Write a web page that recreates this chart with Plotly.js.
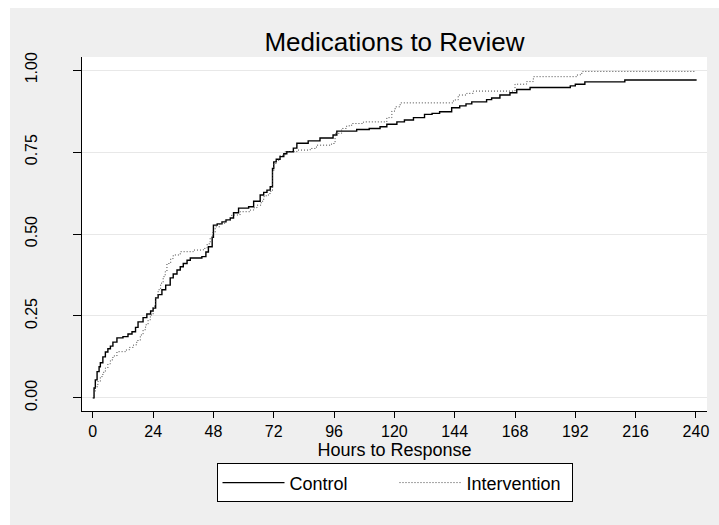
<!DOCTYPE html>
<html>
<head>
<meta charset="utf-8">
<script src="https://cdn.plot.ly/plotly-3.0.1.min.js"></script>
<style>
  html, body { margin: 0; padding: 0; background: #ffffff; }
  #chart { position: absolute; left: 10px; top: 8px; width: 709px; height: 517px; }
</style>
</head>
<body>
<div id="chart"></div>
<script>
// Hours to response (event times) and cumulative proportion responded
const ctrlHours = [0, 0.5, 1, 1.7, 2.5, 3, 4, 5, 6, 7, 8, 9.6, 12, 14, 15.6, 17, 18, 20, 21.5, 23, 24, 25, 26, 27.5, 29, 30.8, 32, 33.5, 34.8, 36, 37.5, 38.8, 43.4, 45, 46, 47.5, 48, 49.5, 51.4, 53, 54.7, 56, 58, 62, 64, 66.6, 68, 69.3, 70.6, 71.5, 72, 73, 74.5, 76, 77.2, 79.8, 81.2, 85.7, 90.4, 95.6, 97.1, 105, 110, 114.3, 117, 121, 124, 127.6, 132, 135, 138, 142.8, 146, 148.5, 150.8, 156.7, 158.7, 162, 166, 168.7, 174, 190, 192, 195.8, 211.7, 240];
const ctrlValues = [0, 0.03, 0.055, 0.08, 0.095, 0.107, 0.125, 0.14, 0.15, 0.158, 0.17, 0.183, 0.187, 0.195, 0.202, 0.215, 0.232, 0.245, 0.256, 0.265, 0.274, 0.305, 0.315, 0.33, 0.344, 0.366, 0.378, 0.39, 0.40, 0.41, 0.42, 0.427, 0.431, 0.445, 0.461, 0.49, 0.527, 0.531, 0.537, 0.543, 0.549, 0.565, 0.579, 0.583, 0.60, 0.619, 0.627, 0.634, 0.644, 0.70, 0.72, 0.728, 0.736, 0.745, 0.751, 0.762, 0.777, 0.784, 0.793, 0.802, 0.814, 0.819, 0.822, 0.827, 0.835, 0.842, 0.848, 0.855, 0.865, 0.868, 0.873, 0.885, 0.891, 0.897, 0.903, 0.91, 0.915, 0.924, 0.931, 0.941, 0.947, 0.952, 0.957, 0.964, 0.97, 0.972];

const intvHours = [0, 0.5, 1, 2, 3, 4, 5, 6, 7, 8, 9.6, 13, 14.5, 16.2, 17.5, 18.9, 20, 21, 22, 22.9, 24, 25, 26, 27, 28, 28.8, 29.5, 31, 32, 34.8, 40, 44, 45.5, 46.7, 47.7, 48.7, 50.5, 52.7, 55.3, 58.6, 62.6, 64, 65.3, 67, 68, 69, 70.5, 71.5, 72, 73, 74.5, 76.5, 81.2, 86.5, 89, 95, 96.4, 99, 101, 103, 107.7, 117, 119, 120.3, 122.3, 143.5, 145.4, 148.8, 151.4, 168, 172.6, 175.3, 192.5, 194, 195, 240];
const intvValues = [0, 0.015, 0.034, 0.05, 0.065, 0.078, 0.091, 0.104, 0.116, 0.128, 0.141, 0.146, 0.154, 0.162, 0.175, 0.192, 0.208, 0.223, 0.238, 0.253, 0.28, 0.305, 0.33, 0.35, 0.37, 0.385, 0.41, 0.425, 0.436, 0.446, 0.451, 0.456, 0.47, 0.488, 0.505, 0.522, 0.533, 0.543, 0.558, 0.568, 0.573, 0.58, 0.588, 0.60, 0.614, 0.619, 0.63, 0.69, 0.715, 0.725, 0.74, 0.751, 0.756, 0.761, 0.771, 0.776, 0.807, 0.822, 0.83, 0.837, 0.842, 0.855, 0.875, 0.888, 0.90, 0.909, 0.924, 0.929, 0.936, 0.957, 0.965, 0.98, 0.985, 0.99, 0.996, 0.996];

const xTickVals = [0, 24, 48, 72, 96, 120, 144, 168, 192, 216, 240];
const yTickVals = [0, 0.25, 0.5, 0.75, 1];
const yTickText = ["0.00", "0.25", "0.50", "0.75", "1.00"];

const FONT = "Liberation Sans, Arial, Helvetica, sans-serif";

const traces = [
  {
    x: ctrlHours, y: ctrlValues, name: "Control", type: "scatter", mode: "lines",
    line: { shape: "hv", color: "#000000", width: 1.4 }
  },
  {
    x: intvHours, y: intvValues, name: "Intervention", type: "scatter", mode: "lines",
    line: { shape: "hv", color: "#444444", width: 1, dash: "1px,2px" }
  }
];

const layout = {
  width: 709, height: 517,
  paper_bgcolor: "#efefef",
  plot_bgcolor: "#ffffff",
  margin: { l: 72, r: 12, t: 49, b: 114, pad: 0 },
  font: { family: FONT, color: "#000000", size: 16 },
  title: {
    text: "Medications to Review",
    font: { family: FONT, size: 26, color: "#000000" },
    xref: "paper", x: 0.5, xanchor: "center",
    yref: "container", y: 1 - 34 / 517, yanchor: "middle"
  },
  xaxis: {
    range: [-4.3, 244.4],
    tickvals: xTickVals,
    ticktext: xTickVals.map(String),
    ticks: "outside", ticklen: 6, tickwidth: 1, tickcolor: "#000000",
    showline: true, linecolor: "#000000", linewidth: 1,
    showgrid: false, zeroline: false,
    tickfont: { family: FONT, size: 16 },
    title: { text: "Hours to Response", font: { family: FONT, size: 18 }, standoff: 4 },
    fixedrange: true
  },
  yaxis: {
    range: [-0.04, 1.04],
    tickvals: yTickVals,
    ticktext: yTickText,
    tickangle: -90,
    ticks: "outside", ticklen: 8, tickwidth: 1, tickcolor: "#000000",
    ticklabelstandoff: 30,
    showline: true, linecolor: "#000000", linewidth: 1,
    showgrid: true, gridcolor: "#e8e8e8", gridwidth: 1, zeroline: false,
    tickfont: { family: FONT, size: 16 },
    fixedrange: true
  },
  showlegend: true,
  legend: {
    orientation: "h",
    x: 0.5, xanchor: "center", xref: "paper",
    y: -0.148, yanchor: "top", yref: "paper",
    bgcolor: "#ffffff", bordercolor: "#000000", borderwidth: 1,
    font: { family: FONT, size: 18 },
    itemwidth: 62,
    entrywidth: 100, entrywidthmode: "pixels",
    traceorder: "normal"
  }
};

Plotly.newPlot("chart", traces, layout, { displayModeBar: false, staticPlot: true });
</script>
</body>
</html>
